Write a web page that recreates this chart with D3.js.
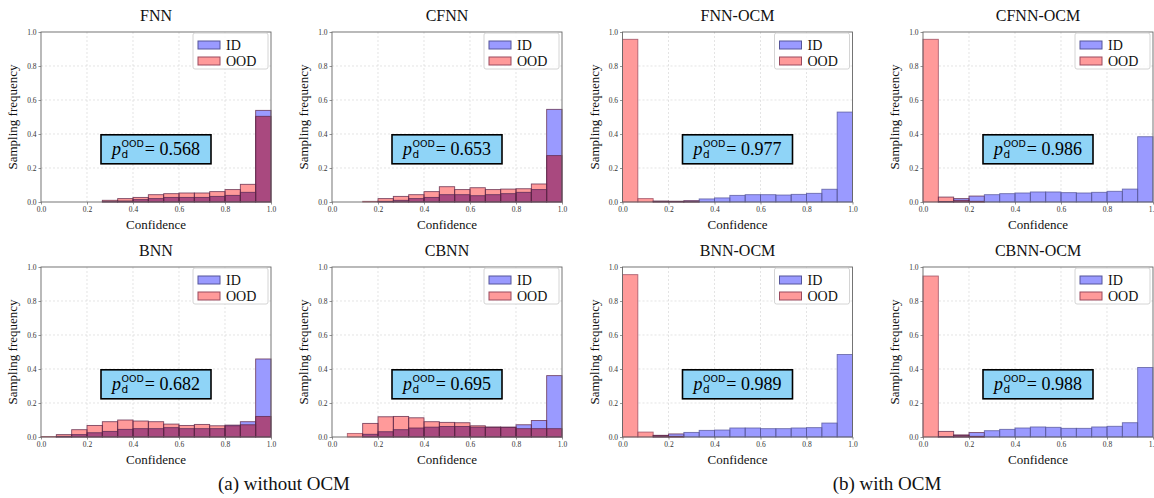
<!DOCTYPE html>
<html>
<head>
<meta charset="utf-8">
<script src="https://cdn.jsdelivr.net/npm/d3@7"></script>
<style>
  html, body { margin: 0; padding: 0; background: #ffffff; }
  svg { display: block; }
</style>
</head>
<body>
<svg id="chart" width="1154" height="498"></svg>
<script>
// ---------------- DATA ----------------
const binEdges = d3.range(16).map(i => i / 15);
const tickValues = [0, 0.2, 0.4, 0.6, 0.8, 1.0];
const tickLabels = ["0.0", "0.2", "0.4", "0.6", "0.8", "1.0"];
const titles = ["FNN", "CFNN", "FNN-OCM", "CFNN-OCM", "BNN", "CBNN", "BNN-OCM", "CBNN-OCM"];
const pValues = ["0.568", "0.653", "0.977", "0.986", "0.682", "0.695", "0.989", "0.988"];
const seriesNames = ["ID", "OOD"];
const captions = ["(a) without OCM", "(b) with OCM"];

const fnnID   = [0, 0, 0, 0, 0.002, 0.006, 0.014, 0.02, 0.027, 0.027, 0.027, 0.033, 0.039, 0.057, 0.539];
const fnnOOD  = [0, 0, 0, 0, 0.01, 0.02, 0.027, 0.043, 0.049, 0.053, 0.053, 0.061, 0.073, 0.104, 0.504];
const cfnnID  = [0, 0, 0, 0.004, 0.01, 0.02, 0.027, 0.043, 0.043, 0.037, 0.043, 0.049, 0.057, 0.073, 0.545];
const cfnnOOD = [0, 0, 0.004, 0.02, 0.033, 0.043, 0.061, 0.09, 0.073, 0.084, 0.073, 0.076, 0.078, 0.106, 0.273];
const fnnOcmID   = [0, 0, 0.003, 0.004, 0.008, 0.018, 0.024, 0.039, 0.043, 0.043, 0.041, 0.045, 0.051, 0.075, 0.529];
const fnnOcmOOD  = [0.957, 0.02, 0.006, 0.004, 0.002, 0, 0, 0, 0, 0, 0, 0, 0, 0, 0];
const cfnnOcmID  = [0, 0.003, 0.02, 0.035, 0.043, 0.049, 0.053, 0.059, 0.059, 0.055, 0.053, 0.057, 0.063, 0.076, 0.384];
const cfnnOcmOOD = [0.957, 0.029, 0.01, 0.004, 0, 0, 0, 0, 0, 0, 0, 0, 0, 0, 0];
const bnnID   = [0, 0.004, 0.014, 0.025, 0.033, 0.045, 0.049, 0.049, 0.055, 0.049, 0.049, 0.049, 0.07, 0.09, 0.459];
const bnnOOD  = [0.003, 0.014, 0.043, 0.068, 0.09, 0.1, 0.094, 0.09, 0.076, 0.068, 0.074, 0.066, 0.066, 0.072, 0.121];
const cbnnID  = [0, 0, 0.016, 0.031, 0.043, 0.053, 0.058, 0.062, 0.062, 0.058, 0.058, 0.058, 0.072, 0.097, 0.361];
const cbnnOOD = [0, 0.021, 0.08, 0.119, 0.121, 0.113, 0.09, 0.086, 0.084, 0.066, 0.058, 0.057, 0.049, 0.049, 0.049];
const bnnOcmID   = [0, 0, 0.008, 0.018, 0.027, 0.039, 0.041, 0.053, 0.053, 0.049, 0.049, 0.053, 0.055, 0.082, 0.485];
const bnnOcmOOD  = [0.955, 0.029, 0.01, 0.004, 0, 0, 0, 0, 0, 0, 0, 0, 0, 0, 0];
const cbnnOcmID  = [0, 0.002, 0.01, 0.026, 0.037, 0.045, 0.053, 0.059, 0.057, 0.051, 0.051, 0.059, 0.063, 0.084, 0.409];
const cbnnOcmOOD = [0.947, 0.033, 0.012, 0.004, 0, 0, 0, 0, 0, 0, 0, 0, 0, 0, 0];

const idSeries  = [fnnID, cfnnID, fnnOcmID, cfnnOcmID, bnnID, cbnnID, bnnOcmID, cbnnOcmID];
const oodSeries = [fnnOOD, cfnnOOD, fnnOcmOOD, cfnnOcmOOD, bnnOOD, cbnnOOD, bnnOcmOOD, cbnnOcmOOD];

// ---------------- LAYOUT / STYLE ----------------
const colLeft = [41, 332, 622.5, 923];
const rowTop = [32, 267];
const pw = 230, ph = 170;
const serif = "'Liberation Serif', 'Times New Roman', serif";
const sans = "'DejaVu Sans', sans-serif";
const colID = "#9a9aff", colOOD = "#ff9a9a", colBoth = "#a9497f";
const edgeID = "#55559a", edgeOOD = "#9a4a5e", edgeBoth = "#5e2547";

const svg = d3.select("#chart");
svg.append("rect").attr("width", 1154).attr("height", 498).attr("fill", "#fff");

titles.forEach((title, k) => {
  const left = colLeft[k % 4], top = rowTop[Math.floor(k / 4)];
  const x = d3.scaleLinear().domain([0, 1]).range([left, left + pw]);
  const y = d3.scaleLinear().domain([0, 1]).range([top + ph, top]);
  const g = svg.append("g");
  const ids = idSeries[k], oods = oodSeries[k];

  // grid
  const grid = g.append("g").attr("stroke", "#d9d9d9").attr("stroke-width", 0.7).attr("stroke-dasharray", "2,2");
  tickValues.slice(1, 5).forEach(v => {
    grid.append("line").attr("x1", x(v)).attr("x2", x(v)).attr("y1", y(0)).attr("y2", y(1));
    grid.append("line").attr("x1", x(0)).attr("x2", x(1)).attr("y1", y(v)).attr("y2", y(v));
  });

  const bins = d3.range(15).map(i => ({x0: binEdges[i], x1: binEdges[i + 1], id: ids[i], ood: oods[i]}));
  const bars = g.append("g");
  // OOD fill
  bars.selectAll(".ood").data(bins.filter(b => b.ood > 0)).join("rect")
    .attr("x", b => x(b.x0)).attr("width", b => x(b.x1) - x(b.x0))
    .attr("y", b => y(b.ood)).attr("height", b => y(0) - y(b.ood))
    .attr("fill", colOOD);
  // ID fill
  bars.selectAll(".id").data(bins.filter(b => b.id > 0)).join("rect")
    .attr("x", b => x(b.x0)).attr("width", b => x(b.x1) - x(b.x0))
    .attr("y", b => y(b.id)).attr("height", b => y(0) - y(b.id))
    .attr("fill", colID);
  // overlap
  bars.selectAll(".both").data(bins.filter(b => Math.min(b.id, b.ood) > 0)).join("rect")
    .attr("x", b => x(b.x0)).attr("width", b => x(b.x1) - x(b.x0))
    .attr("y", b => y(Math.min(b.id, b.ood))).attr("height", b => y(0) - y(Math.min(b.id, b.ood)))
    .attr("fill", colBoth);
  // edges
  bars.selectAll(".oodE").data(bins.filter(b => b.ood > 0)).join("rect")
    .attr("x", b => x(b.x0)).attr("width", b => x(b.x1) - x(b.x0))
    .attr("y", b => y(b.ood)).attr("height", b => y(0) - y(b.ood))
    .attr("fill", "none").attr("stroke", b => b.id > 0 ? edgeBoth : edgeOOD).attr("stroke-width", 0.9).attr("stroke-opacity", 0.8);
  bars.selectAll(".idE").data(bins.filter(b => b.id > 0)).join("rect")
    .attr("x", b => x(b.x0)).attr("width", b => x(b.x1) - x(b.x0))
    .attr("y", b => y(b.id)).attr("height", b => y(0) - y(b.id))
    .attr("fill", "none").attr("stroke", b => b.ood > 0 ? edgeBoth : edgeID).attr("stroke-width", 0.9).attr("stroke-opacity", 0.8);

  // frame
  g.append("rect").attr("x", x(0)).attr("y", y(1)).attr("width", pw).attr("height", ph)
    .attr("fill", "none").attr("stroke", "#666").attr("stroke-width", 0.9);

  // axes
  const xAxis = d3.axisBottom(x).tickValues(tickValues).tickFormat((d, i) => tickLabels[i]).tickSize(2.5).tickPadding(2);
  const yAxis = d3.axisLeft(y).tickValues(tickValues).tickFormat((d, i) => tickLabels[i]).tickSize(2.5).tickPadding(2);
  [g.append("g").attr("transform", `translate(0,${y(0)})`).call(xAxis),
   g.append("g").attr("transform", `translate(${x(0)},0)`).call(yAxis)].forEach(ax => {
    ax.select(".domain").remove();
    ax.selectAll("line").attr("stroke", "#666").attr("stroke-width", 0.7);
    ax.selectAll("text").attr("font-family", serif).attr("font-size", 7.5).attr("fill", "#333");
  });

  // title and axis labels
  g.append("text").attr("x", left + pw / 2).attr("y", top - 11).attr("text-anchor", "middle")
    .attr("font-family", serif).attr("font-size", 16).attr("fill", "#111").text(title);
  g.append("text").attr("x", left + pw / 2).attr("y", top + ph + 27).attr("text-anchor", "middle")
    .attr("font-family", serif).attr("font-size", 13).attr("fill", "#111").text("Confidence");
  g.append("text").attr("transform", `translate(${left - 24},${top + ph / 2}) rotate(-90)`).attr("text-anchor", "middle")
    .attr("font-family", serif).attr("font-size", 13).attr("fill", "#111").text("Sampling frequency");

  // legend
  const lx = left + pw - 78, ly = top + 1;
  const lg = g.append("g");
  lg.append("rect").attr("x", lx).attr("y", ly).attr("width", 75).attr("height", 36).attr("rx", 2)
    .attr("fill", "#fff").attr("fill-opacity", 0.85).attr("stroke", "#cfcfcf").attr("stroke-width", 0.9);
  seriesNames.forEach((s, i) => {
    lg.append("rect").attr("x", lx + 5).attr("y", ly + 8 + i * 16).attr("width", 22).attr("height", 8)
      .attr("fill", i === 0 ? colID : colOOD).attr("stroke", i === 0 ? edgeID : edgeOOD).attr("stroke-width", 1);
    lg.append("text").attr("x", lx + 33).attr("y", ly + 16.5 + i * 16)
      .attr("font-family", serif).attr("font-size", 14).attr("fill", "#111").text(s);
  });

  // annotation box
  const cx = x(0.5), cy = y(0.31);
  const ann = g.append("g");
  const box = ann.append("rect").attr("x", cx - 55).attr("y", cy - 14.5).attr("width", 110).attr("height", 29)
    .attr("fill", "#8fd4f7").attr("stroke", "#000").attr("stroke-width", 1.6);
  const tg = ann.append("g");
  const base = cy + 6;
  const tp = tg.append("text").attr("x", 0).attr("y", base).attr("font-family", serif).attr("font-style", "italic")
    .attr("font-size", 18).attr("fill", "#000").text("p");
  const pwid = tp.node().getComputedTextLength() + 0.5;
  const tsup = tg.append("text").attr("x", pwid).attr("y", base - 8).attr("font-family", sans)
    .attr("font-size", 9.5).attr("fill", "#000").text("OOD");
  const tsub = tg.append("text").attr("x", pwid).attr("y", base + 3).attr("font-family", sans)
    .attr("font-size", 10.5).attr("fill", "#000").text("d");
  const sw = Math.max(tsup.node().getComputedTextLength(), tsub.node().getComputedTextLength());
  const teq = tg.append("text").attr("x", pwid + sw + 1).attr("y", base).attr("font-family", serif)
    .attr("font-size", 18).attr("fill", "#000").text("= " + pValues[k]);
  const total = pwid + sw + 1 + teq.node().getComputedTextLength();
  tg.attr("transform", `translate(${cx - total / 2},0)`);
});

// captions
const capX = [284, 887];
captions.forEach((c, i) => {
  svg.append("text").attr("x", capX[i]).attr("y", 490).attr("text-anchor", "middle")
    .attr("font-family", serif).attr("font-size", 19).attr("fill", "#111").text(c);
});
</script>
</body>
</html>
